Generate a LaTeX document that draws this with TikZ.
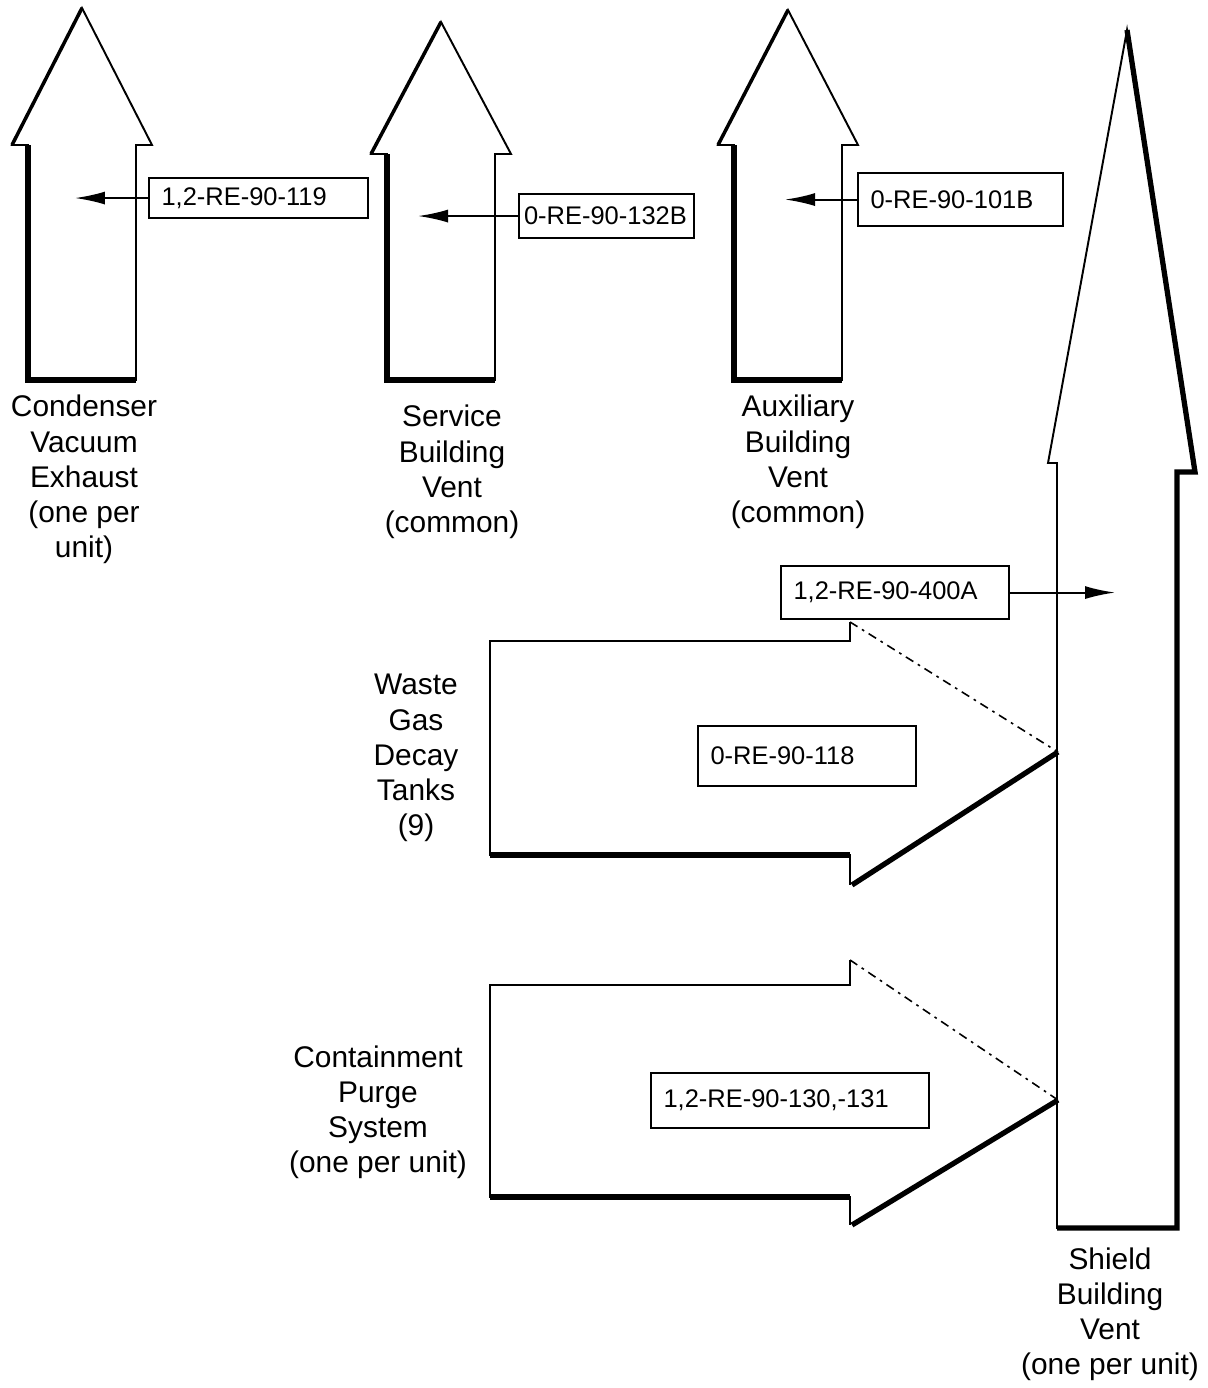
\documentclass[tikz,border=0pt]{standalone}
\usepackage{fontspec}
\setmainfont{Liberation Sans}
\usetikzlibrary{arrows.meta}
\tikzset{
  ventline/.style={line width=1.1pt, line join=miter},
  shadeline/.style={line width=3pt, line join=miter},
  monbox/.style 2 args={draw, line width=1.2pt, anchor=north west, inner xsep=0.25cm, inner ysep=0pt,
    text width=#1, minimum height=#2, align=left, font=\fontsize{14.5}{17}\selectfont},
  monarrow/.style={line width=1.1pt, -{Latex[length=0.6cm,width=0.26cm]}},
  ventlabel/.style={anchor=north, inner sep=0pt, align=center, font=\fontsize{17}{20}\selectfont},
  sampleline/.style={line width=0.9pt, dash pattern=on 5pt off 3pt on 1.5pt off 3pt}
}
\begin{document}
\begin{tikzpicture}[x=0.02cm, y=-0.02cm]
\useasboundingbox (0,0) rectangle (1207,1388);
% 54 = half shaft, 70 = half head, 380 = bottom of the roof vents
\foreach \cx/\ty/\by in {82/8/145, 441/22/154, 788/10/145}{
  \draw[ventline] (\cx-54,380) -- (\cx-54,\by) -- (\cx-70,\by) -- (\cx,\ty)
    -- (\cx+70,\by) -- (\cx+54,\by) -- (\cx+54,380) -- cycle;
  \draw[shadeline] (\cx+54,380) -- (\cx-54,380) -- (\cx-54,\by);
  \draw[line width=2pt] (\cx-70,\by) -- (\cx,\ty);
}
% shield building vent
\draw[ventline] (1057,1228) -- (1057,463) -- (1048,463) -- (1127,30)
  -- (1195,472) -- (1177,472) -- (1177,1228) -- cycle;
\draw[shadeline] (1127,30) -- (1195,472) -- (1177,472) -- (1177,1228) -- (1057,1228);
% waste gas and containment purge: shaft top/bottom, head top/bottom, tip
\foreach \st/\sb/\ht/\hb/\tp in {641/855/622/885/752, 985/1197/960/1225/1100}{
  \draw[ventline] (850,\ht) -- (850,\st) -- (490,\st) -- (490,\sb) -- (850,\sb) -- (850,\hb);
  \draw[shadeline] (490,\sb) -- (850,\sb);
  \draw[shadeline] (852,\hb) -- (1058,\tp);
  \draw[sampleline] (850,\ht) -- (1058,\tp);
}
% monitors
\node[monbox={3.88cm}{0.8cm}] (mon119) at (148,177) {1,2-RE-90-119};
\node[monbox={3.3cm}{0.88cm}, inner xsep=0.1cm] (mon132b) at (518,193) {0-RE-90-132B};
\node[monbox={3.6cm}{1.06cm}] (mon101b) at (857,172) {0-RE-90-101B};
\node[monbox={4.06cm}{1.06cm}] (mon400a) at (780,565) {1,2-RE-90-400A};
\node[monbox={3.86cm}{1.2cm}] (mon118) at (697,725) {0-RE-90-118};
\node[monbox={5.06cm}{1.1cm}] (mon130) at (650,1072) {1,2-RE-90-130,-131};
\coordinate (cvin) at (75,197);
\coordinate (sbin) at (418,215);
\coordinate (abin) at (785,198);
\coordinate (shin) at (1115,591);
\draw[monarrow] (mon119.west) -- (cvin |- mon119.west);
\draw[monarrow] (mon132b.west) -- (sbin |- mon132b.west);
\draw[monarrow] (mon101b.west) -- (abin |- mon101b.west);
\draw[monarrow] (mon400a.east) -- (shin |- mon400a.east);
% labels
\node[ventlabel] (cvlabel) at (84,395) {Condenser\\Vacuum\\Exhaust\\(one per\\unit)};
\node[ventlabel] (sblabel) at (452,405) {Service\\Building\\Vent\\(common)};
\node[ventlabel] (ablabel) at (798,395) {Auxiliary\\Building\\Vent\\(common)};
\node[ventlabel] (wglabel) at (416,674) {Waste\\Gas\\Decay\\Tanks\\(9)};
\node[ventlabel] (cplabel) at (378,1045) {Containment\\Purge\\System\\(one per unit)};
\node[ventlabel] (shlabel) at (1110,1247) {Shield\\Building\\Vent\\(one per unit)};
\end{tikzpicture}
\end{document}
